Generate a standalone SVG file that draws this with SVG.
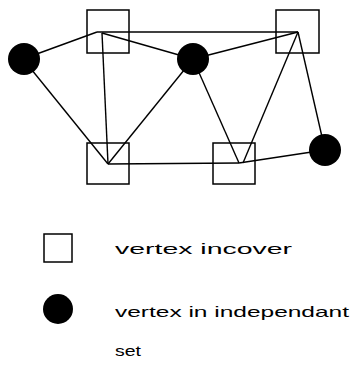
<svg xmlns="http://www.w3.org/2000/svg" width="352" height="365" viewBox="0 0 352 365">
<style>
.edge{stroke:#000;stroke-width:1.4;fill:none}
.cover{fill:none;stroke:#000;stroke-width:1.5}
.ind{fill:#000}
.lbl{font-family:"Liberation Sans",Arial,sans-serif;font-size:15px;fill:#000}
</style>
<rect width="352" height="365" fill="#fff"/>
<g id="edges">
<line class="edge" x1="97" y1="32" x2="298" y2="32"/>
<line class="edge" x1="23" y1="59" x2="97" y2="32"/>
<line class="edge" x1="23" y1="59" x2="108" y2="164"/>
<line class="edge" x1="102" y1="33" x2="108" y2="164"/>
<line class="edge" x1="102" y1="33" x2="193" y2="59"/>
<line class="edge" x1="193" y1="59" x2="298" y2="32"/>
<line class="edge" x1="193" y1="59" x2="108" y2="164"/>
<line class="edge" x1="193" y1="59" x2="239" y2="163"/>
<line class="edge" x1="298" y1="32" x2="243" y2="163"/>
<line class="edge" x1="298" y1="32" x2="325" y2="150"/>
<line class="edge" x1="108" y1="164" x2="239" y2="163"/>
<line class="edge" x1="239" y1="163" x2="325" y2="150"/>
</g>
<g id="c1"><rect class="cover" x="87" y="10" width="42" height="43"/></g>
<g id="c2"><rect class="cover" x="276" y="10" width="43" height="43"/></g>
<g id="c3"><rect class="cover" x="87" y="143" width="42" height="41"/></g>
<g id="c4"><rect class="cover" x="213" y="143" width="42" height="41"/></g>
<g id="i1"><circle class="ind" cx="24" cy="59" r="16"/></g>
<g id="i2"><circle class="ind" cx="193" cy="59" r="16"/></g>
<g id="i3"><circle class="ind" cx="325" cy="150" r="16"/></g>
<g id="legend">
<rect class="cover" x="44" y="234" width="28" height="28"/>
<text class="lbl" x="115" y="254" textLength="177" lengthAdjust="spacingAndGlyphs">vertex  incover</text>
<circle class="ind" cx="58" cy="309" r="15"/>
<text class="lbl" x="115" y="317" textLength="234" lengthAdjust="spacingAndGlyphs">vertex in independant</text>
<text class="lbl" x="115" y="356" textLength="26" lengthAdjust="spacingAndGlyphs">set</text>
</g>
</svg>
